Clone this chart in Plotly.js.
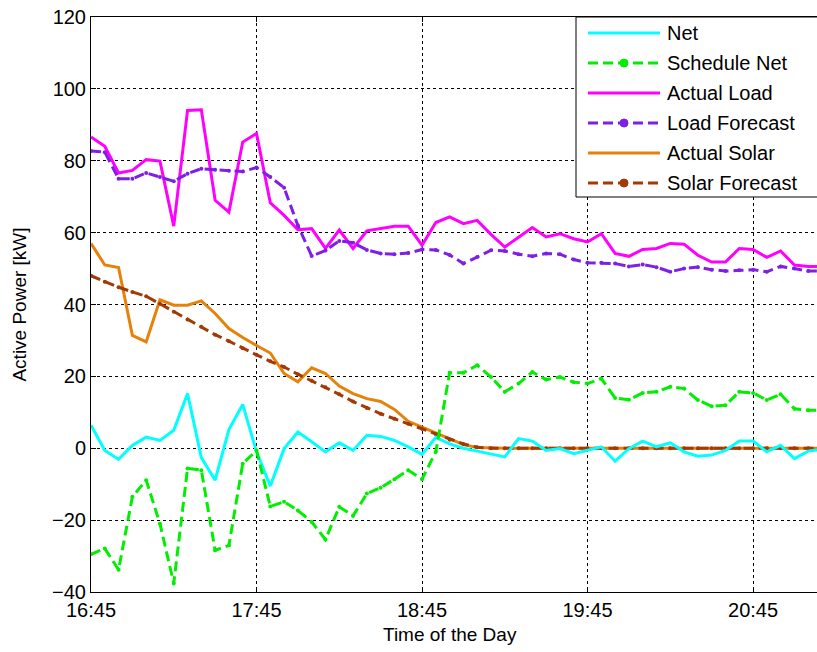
<!DOCTYPE html>
<html>
<head>
<meta charset="utf-8">
<script src="https://cdn.plot.ly/plotly-3.0.1.min.js"></script>
<style>
  html, body { margin: 0; padding: 0; overflow: hidden; background: #ffffff; }
  #chart { width: 822px; height: 652px; }
</style>
</head>
<body>
<div id="chart"></div>
<script>
// Five-minute samples starting at 16:45
const startHour = 16;
const startMinute = 45;
const stepMinutes = 5;

const netValues = [6.4, -0.6, -3.1, 0.8, 3.1, 2.2, 5.0, 15.2, -2.6, -8.9,
  5.2, 12.2, -1.0, -10.5, -0.1, 4.5, 1.8, -1.0, 1.5, -0.6,
  3.6, 3.3, 2.2, 0.4, -1.7, 3.0, 1.2, 0.0, -0.8, -1.5,
  -2.4, 2.7, 2.0, -0.6, -0.1, -1.5, -0.6, 0.4, -3.6, -0.1,
  2.0, 0.4, 1.5, -1.0, -2.2, -1.9, -0.6, 2.0, 2.0, -1.0,
  0.8, -2.9, -0.8, -0.3];

const scheduleNetValues = [-29.5, -27.9, -33.8, -13.5, -8.9, -21.0, -37.6, -5.6, -6.1, -28.4,
  -27.0, -4.3, -0.6, -16.2, -14.9, -17.3, -20.5, -25.4, -16.3, -18.8,
  -12.6, -11.0, -8.6, -6.1, -8.6, -1.0, 21.0, 21.0, 23.1, 19.8,
  15.7, 18.0, 21.2, 19.1, 19.8, 18.4, 18.0, 19.4, 14.0, 13.5,
  15.4, 15.7, 17.1, 16.6, 13.4, 11.7, 12.0, 15.7, 15.4, 13.4,
  15.0, 11.0, 10.6, 10.6];

const actualLoadValues = [86.6, 84.0, 76.6, 77.3, 80.3, 79.9, 61.8, 94.0, 94.2, 69.0,
  65.7, 85.2, 87.6, 68.3, 64.8, 60.8, 61.1, 55.6, 60.7, 55.6,
  60.5, 61.1, 61.8, 61.8, 56.5, 62.8, 64.4, 62.5, 63.4, 59.5,
  56.0, 58.7, 61.4, 58.8, 59.7, 58.3, 57.4, 59.7, 54.2, 53.4,
  55.3, 55.6, 57.0, 56.8, 53.7, 51.8, 51.8, 55.6, 55.3, 53.1,
  54.9, 51.0, 50.6, 50.6];

const loadForecastValues = [82.7, 82.4, 75.0, 75.0, 76.6, 75.5, 74.3, 76.4, 77.8, 77.5,
  77.2, 77.0, 78.1, 75.5, 72.5, 62.0, 53.5, 55.0, 57.7, 57.2,
  55.2, 54.2, 54.0, 54.3, 55.3, 55.2, 53.8, 51.4, 53.2, 55.1,
  54.9, 54.0, 53.4, 54.2, 54.0, 52.5, 51.6, 51.6, 51.4, 50.6,
  51.1, 50.4, 49.1, 50.0, 50.4, 49.7, 49.3, 49.5, 49.7, 49.1,
  50.6, 50.0, 49.3, 49.3];

const actualSolarValues = [57.0, 51.0, 50.3, 31.4, 29.6, 41.3, 39.8, 39.8, 41.0, 37.5,
  33.3, 30.8, 28.6, 26.5, 20.8, 18.5, 22.4, 20.8, 17.3, 15.2,
  13.8, 13.0, 10.8, 7.5, 5.9, 4.2, 2.5, 1.0, 0.2, 0,
  0, 0, 0, 0, 0, 0, 0, 0, 0, 0,
  0, 0, 0, 0, 0, 0, 0, 0, 0, 0,
  0, 0, 0, 0];

const solarForecastValues = [48.0, 46.3, 44.8, 43.5, 42.3, 40.2, 38.0, 35.8, 33.8, 31.6,
  29.8, 27.8, 26.0, 24.2, 22.6, 20.6, 18.8, 17.0, 15.0, 13.0,
  11.2, 9.6, 8.2, 6.8, 5.4, 3.9, 2.4, 1.2, 0.3, 0,
  0, 0, 0, 0, 0, 0, 0, 0, 0, 0,
  0, 0, 0, 0, 0, 0, 0, 0, 0, 0,
  0, 0, 0, 0];

const xTickLabels = ['16:45', '17:45', '18:45', '19:45', '20:45'];
const yTickValues = [-40, -20, 0, 20, 40, 60, 80, 100, 120];

const seriesNames = ['Net', 'Schedule Net', 'Actual Load', 'Load Forecast', 'Actual Solar', 'Solar Forecast'];

// ---- styling ----
const COLORS = {
  'Net': '#00ffff',
  'Schedule Net': '#00ee00',
  'Actual Load': '#ff00ff',
  'Load Forecast': '#7f1fe6',
  'Actual Solar': '#e6820a',
  'Solar Forecast': '#a33a06'
};
const DASHED = { 'Schedule Net': true, 'Load Forecast': true, 'Solar Forecast': true };
const FONT = 'Liberation Sans, Arial, Helvetica, sans-serif';
const DAY = '2000-01-01 ';

function pad(n) { return (n < 10 ? '0' : '') + n; }
function stamp(totalMinutes) {
  return DAY + pad(Math.floor(totalMinutes / 60)) + ':' + pad(totalMinutes % 60) + ':00';
}
function hhmmToStamp(label) {
  const p = label.split(':');
  return stamp(parseInt(p[0], 10) * 60 + parseInt(p[1], 10));
}

const seriesValues = {
  'Net': netValues,
  'Schedule Net': scheduleNetValues,
  'Actual Load': actualLoadValues,
  'Load Forecast': loadForecastValues,
  'Actual Solar': actualSolarValues,
  'Solar Forecast': solarForecastValues
};

const times = netValues.map((_, i) => stamp(startHour * 60 + startMinute + i * stepMinutes));

// Draw order: solar first so the load/net lines sit on top where they overlap
const drawOrder = ['Actual Solar', 'Solar Forecast', 'Actual Load', 'Load Forecast', 'Net', 'Schedule Net'];

const traces = drawOrder.map(name => ({
  type: 'scatter',
  mode: DASHED[name] ? 'lines+markers' : 'lines',
  name: name,
  x: times,
  y: seriesValues[name],
  line: { color: COLORS[name], width: 3, dash: DASHED[name] ? '10px,5px' : 'solid' },
  marker: { color: COLORS[name], size: 4 },
  showlegend: false,
  hoverinfo: 'x+y+name'
}));

// ---- plot geometry (pixels) ----
const W = 822, H = 652;
const M = { l: 91, r: 0, t: 17, b: 60 };
const plotW = W - M.l - M.r, plotH = H - M.t - M.b;
const px = x => (x - M.l) / plotW;          // pixel -> paper x
const py = y => (H - M.b - y) / plotH;      // pixel -> paper y

// ---- hand-built legend box ----
const shapes = [];
const annotations = [];
shapes.push({
  type: 'rect', xref: 'paper', yref: 'paper',
  x0: px(576), x1: px(840), y0: py(197), y1: py(17),
  line: { color: '#000000', width: 1 }, fillcolor: '#ffffff', layer: 'above'
});
const rowY = [33, 63, 93, 123, 153, 183];
seriesNames.forEach((name, k) => {
  const y = rowY[k];
  shapes.push({
    type: 'line', xref: 'paper', yref: 'paper',
    x0: px(588), x1: px(660), y0: py(y), y1: py(y),
    line: { color: COLORS[name], width: 3, dash: DASHED[name] ? '10px,5px' : 'solid' },
    layer: 'above'
  });
  if (DASHED[name]) {
    shapes.push({
      type: 'circle', xref: 'paper', yref: 'paper',
      x0: px(620), x1: px(628), y0: py(y + 4), y1: py(y - 4),
      line: { color: COLORS[name], width: 1 }, fillcolor: COLORS[name], layer: 'above'
    });
  }
  annotations.push({
    xref: 'paper', yref: 'paper', x: px(665), y: py(y),
    xanchor: 'left', yanchor: 'middle', showarrow: false,
    text: name, font: { family: FONT, size: 20, color: '#000000' }
  });
});

// x-axis title placed as text under the tick labels
annotations.push({
  xref: 'paper', yref: 'paper', x: px(450), y: py(634),
  xanchor: 'center', yanchor: 'middle', showarrow: false,
  text: 'Time of the Day', font: { family: FONT, size: 19, color: '#000000' }
});

const layout = {
  width: W, height: H,
  margin: M,
  paper_bgcolor: '#ffffff',
  plot_bgcolor: '#ffffff',
  font: { family: FONT, size: 19, color: '#000000' },
  showlegend: false,
  xaxis: {
    type: 'date',
    range: [stamp(16 * 60 + 45), stamp(21 * 60 + 10)],
    tickvals: xTickLabels.map(hhmmToStamp),
    ticktext: xTickLabels,
    ticks: 'inside', ticklen: 5, tickcolor: '#000000',
    showline: true, linecolor: '#000000', linewidth: 1, mirror: 'ticks',
    showgrid: true, gridcolor: '#000000', gridwidth: 1, griddash: '3px,3px',
    zeroline: false,
    tickfont: { family: FONT, size: 20 }
  },
  yaxis: {
    range: [-40, 120],
    tickvals: yTickValues,
    ticks: 'inside', ticklen: 5, tickcolor: '#000000',
    showline: true, linecolor: '#000000', linewidth: 1, mirror: 'ticks',
    showgrid: true, gridcolor: '#000000', gridwidth: 1, griddash: '3px,3px',
    zeroline: false,
    tickfont: { family: FONT, size: 20 },
    title: { text: 'Active Power [kW]', font: { family: FONT, size: 19 }, standoff: 20 }
  },
  shapes: shapes,
  annotations: annotations
};

Plotly.newPlot('chart', traces, layout, { displayModeBar: false, staticPlot: true });
</script>
</body>
</html>
